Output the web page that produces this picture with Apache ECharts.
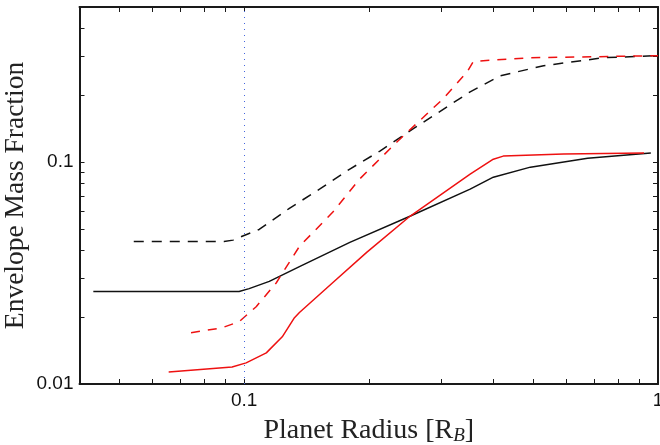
<!DOCTYPE html>
<html>
<head>
<meta charset="utf-8">
<script src="https://cdn.jsdelivr.net/npm/echarts@6/dist/echarts.min.js"></script>
<style>html,body{margin:0;padding:0;background:#fff}#c{width:660px;height:445px}</style>
</head>
<body>
<div id="c"></div>
<script>
// Planet radius [R_B] and envelope mass fraction (log-log)
var blackSolidX = [0.0432, 0.0972, 0.1028, 0.115, 0.136, 0.180, 0.2515, 0.3516, 0.400, 0.4916, 0.676, 0.961];
var blackSolidY = [0.0261, 0.0261, 0.0269, 0.0290, 0.0338, 0.0435, 0.0570, 0.0755, 0.0855, 0.0949, 0.1042, 0.1098];

var blackDashX = [0.0541, 0.0894, 0.0940, 0.0989, 0.1087, 0.1286, 0.1521, 0.180, 0.2128, 0.2558, 0.3516, 0.416, 0.529, 0.740, 1.0];
var blackDashY = [0.0439, 0.0439, 0.0445, 0.0463, 0.0497, 0.0619, 0.0755, 0.0930, 0.1121, 0.1410, 0.2074, 0.245, 0.2719, 0.2955, 0.3017];

var redSolidX = [0.0657, 0.0935, 0.1011, 0.1131, 0.1236, 0.1323, 0.136, 0.1636, 0.1977, 0.2515, 0.3516, 0.400, 0.4227, 0.5916, 0.925];
var redSolidY = [0.01133, 0.01194, 0.01245, 0.01381, 0.01632, 0.0199, 0.0210, 0.0286, 0.0392, 0.0570, 0.0882, 0.1031, 0.1064, 0.1087, 0.1098];

var redDashX = [0.0744, 0.0884, 0.0972, 0.1069, 0.1196, 0.136, 0.1636, 0.190, 0.2339, 0.3024, 0.346, 0.3577, 0.3782, 0.4916, 0.715, 1.0];
var redDashY = [0.01702, 0.01792, 0.01908, 0.0223, 0.0286, 0.0417, 0.0594, 0.0838, 0.1232, 0.1928, 0.2554, 0.2835, 0.2864, 0.2955, 0.2986, 0.3017];

var xRange = [0.04, 1];
var yRange = [0.01, 0.5];
var xTickValues = [0.04, 0.05, 0.06, 0.07, 0.08, 0.09, 0.1, 0.2, 0.3, 0.4, 0.5, 0.6, 0.7, 0.8, 0.9, 1];
var yTickValues = [0.01, 0.02, 0.03, 0.04, 0.05, 0.06, 0.07, 0.08, 0.09, 0.1, 0.2, 0.3, 0.4, 0.5];
var xTickLabels = [0.1, 1];
var yTickLabels = [0.01, 0.1];
var markerRadius = 0.1;

function lg(v) { return Math.log10(v); }
function pairs(xs, ys) { return xs.map(function (x, i) { return [lg(x), lg(ys[i])]; }); }
function fmt(v) { return String(parseFloat(Math.pow(10, v).toPrecision(3))); }

var AX = '#1a1a1a';
var sansFont = 'Liberation Sans';
var serifFont = 'Liberation Serif';

function xAx(pos, labels) {
  return {
    type: 'value', position: pos, min: lg(xRange[0]), max: lg(xRange[1]),
    splitLine: { show: false },
    axisLine: { show: true, onZero: false, lineStyle: { color: AX, width: 2 } },
    axisTick: { show: true, inside: true, length: 5, customValues: xTickValues.map(lg), lineStyle: { color: AX, width: 1 } },
    axisLabel: { show: labels, customValues: xTickLabels.map(lg), formatter: fmt, margin: 7,
      fontFamily: sansFont, fontSize: 19, color: '#111' }
  };
}
function yAx(pos, labels) {
  return {
    type: 'value', position: pos, min: lg(yRange[0]), max: lg(yRange[1]),
    splitLine: { show: false },
    axisLine: { show: true, onZero: false, lineStyle: { color: AX, width: 2 } },
    axisTick: { show: true, inside: true, length: 5, customValues: yTickValues.map(lg), lineStyle: { color: AX, width: 1 } },
    axisLabel: { show: labels, customValues: yTickLabels.map(lg), formatter: fmt, margin: 6,
      fontFamily: sansFont, fontSize: 19, color: '#111' }
  };
}

var bottomX = xAx('bottom', true);
bottomX.name = '{a|Planet Radius [R}{b|B}{a|]}';
bottomX.nameLocation = 'middle';
bottomX.nameGap = 30;
bottomX.nameMoveOverlap = false;
bottomX.nameTextStyle = {
  rich: {
    a: { fontFamily: serifFont, fontSize: 28, color: '#222', lineHeight: 31, verticalAlign: 'bottom' },
    b: { fontFamily: serifFont, fontStyle: 'italic', fontSize: 19, color: '#222', lineHeight: 19, padding: [17, 0, 0, 0], verticalAlign: 'bottom' }
  }
};
var topX = xAx('top', false);

var leftY = yAx('left', true);
leftY.name = 'Envelope Mass Fraction';
leftY.nameLocation = 'middle';
leftY.nameGap = 50;
leftY.nameMoveOverlap = false;
leftY.nameTextStyle = { fontFamily: serifFont, fontSize: 27.5, color: '#222' };
var rightY = yAx('right', false);

function line(data, color, dash, extra) {
  var s = {
    type: 'line', data: data, showSymbol: false, symbol: 'none', smooth: false,
    xAxisIndex: 0, yAxisIndex: 0, silent: true,
    lineStyle: { color: color, width: 1.5, type: dash }
  };
  if (extra) for (var k in extra) s[k] = extra[k];
  return s;
}

var chart = echarts.init(document.getElementById('c'), null, { renderer: 'canvas' });
chart.setOption({
  animation: false,
  backgroundColor: '#fff',
  grid: { left: 79.5, right: 2, top: 7, bottom: 61, containLabel: false, outerBoundsMode: 'none' },
  xAxis: [bottomX, topX],
  yAxis: [leftY, rightY],
  series: [
    line(pairs(blackSolidX, blackSolidY), '#111', 'solid', {
      markLine: {
        silent: true, symbol: ['none', 'none'], label: { show: false },
        lineStyle: { color: '#4466dd', width: 1, type: [1, 5] },
        data: [{ xAxis: lg(markerRadius) }]
      }
    }),
    line(pairs(blackDashX, blackDashY), '#111', [10, 8]),
    line(pairs(redSolidX, redSolidY), '#ee1111', 'solid'),
    line(pairs(redDashX, redDashY), '#ee1111', [9, 8])
  ]
});
</script>
</body>
</html>
